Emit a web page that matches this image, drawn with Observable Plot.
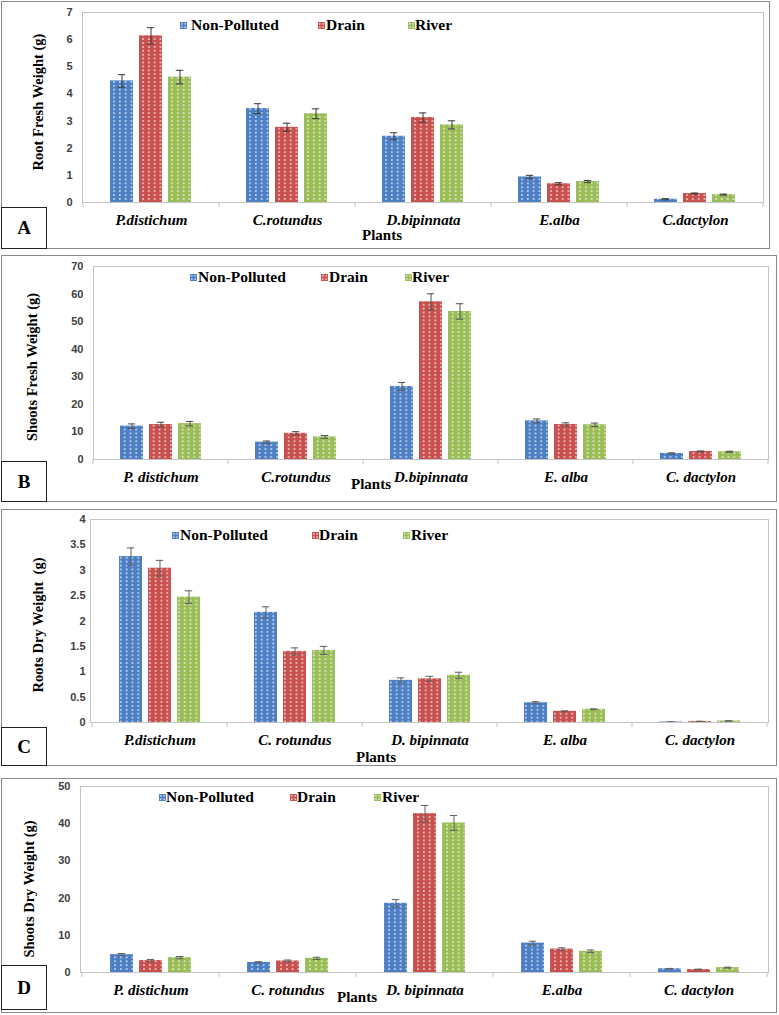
<!DOCTYPE html>
<html><head><meta charset="utf-8">
<script src="https://cdn.jsdelivr.net/npm/d3@7"></script>
<script src="https://cdn.jsdelivr.net/npm/@observablehq/plot@0.6"></script>
<style>
body{margin:0;background:#fff}
#page{position:relative;width:779px;height:1015px;overflow:hidden;background:#fff}
.outer{position:absolute;border:1.5px solid #8a8a8a;box-sizing:border-box}
.frame{position:absolute;border:1px solid #c4c4c4;box-sizing:border-box;pointer-events:none}
.lab{position:absolute;border:1.5px solid #222;background:#fff;box-sizing:border-box;font-family:"Liberation Serif",serif;font-weight:bold;font-size:19px;display:flex;align-items:center;justify-content:center;color:#000}
.legtext{position:absolute;font-family:"Liberation Serif",serif;font-weight:bold;font-size:15.5px;color:#000;white-space:nowrap;line-height:16px}
.sq{position:absolute;width:7px;height:7px;background-image:radial-gradient(rgba(255,255,255,.6) 0.7px, transparent 0.9px);background-size:3.5px 3.5px}
.plants{position:absolute;font-family:"Liberation Serif",serif;font-weight:bold;font-size:15px;transform:translate(-50%,-50%);white-space:nowrap;color:#000}
.ytitle{position:absolute;font-family:"Liberation Serif",serif;font-weight:bold;font-size:14.5px;transform:translate(-50%,-50%) rotate(-90deg);white-space:pre;color:#000}
svg.chart{position:absolute;left:0}
svg.chart [aria-label="y-axis tick label"]{font:bold 11px "Liberation Sans";fill:#404040}
svg.chart [aria-label="fx-axis tick label"]{font:italic bold 15px "Liberation Serif";fill:#000}
</style>
</head>
<body>
<svg width="0" height="0" style="position:absolute">
  <defs>
    <pattern id="dots" width="5.8" height="3.9" patternUnits="userSpaceOnUse">
      <rect x="2.1" y="1.2" width="1.5" height="1.5" fill="#ffffff" opacity="0.9"></rect>
    </pattern>
  </defs>
</svg>
<div id="page"></div>
<script>
// ---------- data ----------
const series = ["Non-Polluted", "Drain", "River"];
const seriesColors = ["#4d7fc4", "#c8504e", "#9bbd57"];

// A: Root fresh weight
const plantsA = ["P.distichum", "C.rotundus", "D.bipinnata", "E.alba", "C.dactylon"];
const rootFreshNP = [4.48, 3.46, 2.44, 0.94, 0.12];
const rootFreshDrain = [6.14, 2.77, 3.13, 0.69, 0.33];
const rootFreshRiver = [4.62, 3.27, 2.86, 0.77, 0.29];
const rootFreshErrNP = [0.23, 0.18, 0.13, 0.06, 0.02];
const rootFreshErrDrain = [0.30, 0.15, 0.17, 0.04, 0.02];
const rootFreshErrRiver = [0.25, 0.18, 0.15, 0.04, 0.02];
const ticksA = [0, 1, 2, 3, 4, 5, 6, 7];

// B: Shoots fresh weight
const plantsB = ["P. distichum", "C.rotundus", "D.bipinnata", "E. alba", "C. dactylon"];
const shootFreshNP = [12.1, 6.3, 26.5, 14.0, 2.2];
const shootFreshDrain = [12.7, 9.5, 57.2, 12.7, 2.9];
const shootFreshRiver = [13.0, 8.2, 53.7, 12.6, 2.8];
const shootFreshErrNP = [0.8, 0.4, 1.4, 0.7, 0.2];
const shootFreshErrDrain = [0.8, 0.6, 2.9, 0.6, 0.2];
const shootFreshErrRiver = [0.8, 0.5, 2.8, 0.6, 0.2];
const ticksB = [0, 10, 20, 30, 40, 50, 60, 70];

// C: Roots dry weight
const plantsC = ["P.distichum", "C. rotundus", "D. bipinnata", "E. alba", "C. dactylon"];
const rootDryNP = [3.27, 2.17, 0.83, 0.39, 0.01];
const rootDryDrain = [3.04, 1.40, 0.86, 0.22, 0.02];
const rootDryRiver = [2.47, 1.42, 0.93, 0.26, 0.03];
const rootDryErrNP = [0.17, 0.11, 0.05, 0.02, 0.005];
const rootDryErrDrain = [0.155, 0.07, 0.05, 0.01, 0.005];
const rootDryErrRiver = [0.125, 0.08, 0.06, 0.01, 0.005];
const ticksC = [0, 0.5, 1, 1.5, 2, 2.5, 3, 3.5, 4];

// D: Shoots dry weight
const plantsD = ["P. distichum", "C. rotundus", "D. bipinnata", "E.alba", "C. dactylon"];
const shootDryNP = [4.8, 2.7, 18.6, 7.9, 1.0];
const shootDryDrain = [3.2, 3.1, 42.7, 6.3, 0.8];
const shootDryRiver = [4.0, 3.8, 40.2, 5.7, 1.3];
const shootDryErrNP = [0.3, 0.2, 1.0, 0.5, 0.1];
const shootDryErrDrain = [0.3, 0.25, 2.2, 0.35, 0.1];
const shootDryErrRiver = [0.3, 0.3, 2.0, 0.35, 0.12];
const ticksD = [0, 10, 20, 30, 40, 50];

function rows(plants, vals, errs) {
  return plants.flatMap((p, i) => series.map((s, j) => ({plant: p, series: s, value: vals[j][i], err: errs[j][i]})));
}

const panels = [
  {letter: "A", title: "Root Fresh Weight (g)", plants: plantsA, ticks: ticksA,
   data: rows(plantsA, [rootFreshNP, rootFreshDrain, rootFreshRiver], [rootFreshErrNP, rootFreshErrDrain, rootFreshErrRiver]),
   outer: [1, 1, 770, 249], frame: {l: 82, r: 763, t: 12, b: 202}, lab: [1, 207, 47, 249],
   plants_xy: [382, 235], legY: 25, sq: [180, 318, 408], tx: [191, 326, 415], title_xy: [38, 102], tickPad: 11, err: "#3a3a3a"},
  {letter: "B", title: "Shoots Fresh Weight (g)", plants: plantsB, ticks: ticksB,
   data: rows(plantsB, [shootFreshNP, shootFreshDrain, shootFreshRiver], [shootFreshErrNP, shootFreshErrDrain, shootFreshErrRiver]),
   outer: [1, 255, 777, 502], frame: {l: 93, r: 768, t: 266, b: 459}, lab: [1, 461, 47, 502],
   plants_xy: [371, 484], legY: 277, sq: [190, 321, 405], tx: [198, 329, 412], title_xy: [32, 367], tickPad: 10, err: "#505050"},
  {letter: "C", title: "Roots Dry Weight  (g)", plants: plantsC, ticks: ticksC,
   data: rows(plantsC, [rootDryNP, rootDryDrain, rootDryRiver], [rootDryErrNP, rootDryErrDrain, rootDryErrRiver]),
   outer: [1, 509, 777, 766], frame: {l: 90, r: 768, t: 519, b: 722}, lab: [1, 727, 47, 766],
   plants_xy: [376, 757], legY: 535, sq: [172, 312, 403], tx: [180, 319, 411], title_xy: [38, 625], tickPad: 7, err: "#606060"},
  {letter: "D", title: "Shoots Dry Weight (g)", plants: plantsD, ticks: ticksD,
   data: rows(plantsD, [shootDryNP, shootDryDrain, shootDryRiver], [shootDryErrNP, shootDryErrDrain, shootDryErrRiver]),
   outer: [1, 778, 777, 1013], frame: {l: 80, r: 768, t: 786, b: 972}, lab: [1, 965, 47, 1010],
   plants_xy: [357, 997], legY: 797, sq: [159, 290, 374], tx: [166, 297, 382], title_xy: [29, 889], tickPad: 12, err: "#606060"}
];

const page = document.getElementById("page");
function div(cls, css, text) {
  const d = document.createElement("div");
  d.className = cls;
  Object.assign(d.style, css);
  if (text != null) d.textContent = text;
  page.appendChild(d);
  return d;
}
const px = v => v + "px";

for (const cfg of panels) {
  const [ox1, oy1, ox2, oy2] = cfg.outer;
  div("outer", {left: px(ox1), top: px(oy1), width: px(ox2 - ox1), height: px(oy2 - oy1)});

  const {l, r, t, b} = cfg.frame;
  const mt = 10, mb = 34;
  const H = b - t + mt + mb;
  const yMax = cfg.ticks[cfg.ticks.length - 1];
  const lo = d => d.value - d.err, hi = d => d.value + d.err;
  const plot = Plot.plot({
    width: 779, height: H,
    marginLeft: l, marginRight: 779 - r, marginTop: mt, marginBottom: mb,
    style: {background: "transparent", overflow: "visible"},
    fx: {domain: cfg.plants, padding: 0, label: null},
    x: {domain: series, paddingInner: 0.2, paddingOuter: 0.9, axis: null},
    y: {domain: [0, yMax]},
    color: {domain: series, range: seriesColors},
    marks: [
      Plot.axisY({ticks: cfg.ticks, tickSize: 0, tickPadding: cfg.tickPad, tickFormat: d => String(d), label: null}),
      Plot.axisFx({anchor: "bottom", tickSize: 0, tickPadding: 12, label: null}),
      Plot.barY(cfg.data, {fx: "plant", x: "series", y: "value", fill: "series"}),
      Plot.barY(cfg.data, {fx: "plant", x: "series", y: "value", fill: "url(#dots)"}),
      Plot.ruleX(cfg.data, {fx: "plant", x: "series", y1: lo, y2: hi, stroke: cfg.err, strokeWidth: 1}),
      Plot.tickY(cfg.data, {fx: "plant", x: "series", y: lo, stroke: cfg.err, insetLeft: 7.8, insetRight: 7.8}),
      Plot.tickY(cfg.data, {fx: "plant", x: "series", y: hi, stroke: cfg.err, insetLeft: 7.8, insetRight: 7.8})
    ]
  });
  plot.classList.add("chart");
  plot.style.top = px(t - mt);
  // category boundary ticks below the baseline, from the fx scale
  const fxs = plot.scale("fx");
  const starts = cfg.plants.map(p => fxs.apply(p));
  const step = starts[1] - starts[0];
  const edges = [...starts, starts[starts.length - 1] + step];
  d3.select(plot).append("g").selectAll("line").data(edges).join("line")
    .attr("x1", d => d).attr("x2", d => d)
    .attr("y1", H - mb).attr("y2", H - mb + 5)
    .attr("stroke", "#c4c4c4");
  page.appendChild(plot);

  div("frame", {left: px(l), top: px(t), width: px(r - l + 1), height: px(b - t + 1)});

  series.forEach((s, j) => {
    div("sq", {left: px(cfg.sq[j]), top: px(cfg.legY - 3.5), backgroundColor: seriesColors[j]});
    div("legtext", {left: px(cfg.tx[j]), top: px(cfg.legY - 8.5)}, s);
  });

  div("ytitle", {left: px(cfg.title_xy[0]), top: px(cfg.title_xy[1])}, cfg.title);
  div("plants", {left: px(cfg.plants_xy[0]), top: px(cfg.plants_xy[1])}, "Plants");
  const [lx1, ly1, lx2, ly2] = cfg.lab;
  div("lab", {left: px(lx1), top: px(ly1), width: px(lx2 - lx1), height: px(ly2 - ly1)}, cfg.letter);
}
</script>
</body></html>
